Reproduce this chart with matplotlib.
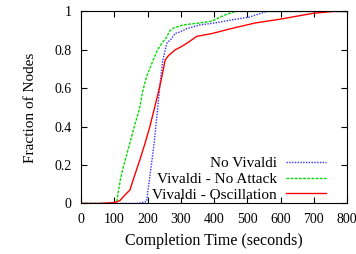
import matplotlib
matplotlib.use("Agg")
import matplotlib.pyplot as plt

plt.rcParams['font.family'] = ['Liberation Serif', 'DejaVu Serif']
plt.rcParams['font.size'] = 10

# completion time (s) vs fraction of nodes
t_novivaldi = [0, 172, 197, 207, 220, 230, 240, 246, 258, 273, 283, 293, 318, 358, 403, 450, 505, 540, 560, 800]
f_novivaldi = [0, 0, 0.01, 0.14, 0.315, 0.487, 0.66, 0.747, 0.834, 0.86, 0.886, 0.89, 0.91, 0.93, 0.94, 0.955, 0.97, 0.99, 1.0, 1.0]

t_noattack = [0, 107, 112, 118, 125, 135, 147, 160, 175, 185, 197, 217, 230, 243, 255, 268, 280, 307, 333, 358, 394, 430, 464, 800]
f_noattack = [0, 0, 0.06, 0.12, 0.175, 0.24, 0.315, 0.40, 0.487, 0.58, 0.66, 0.747, 0.80, 0.834, 0.86, 0.90, 0.915, 0.93, 0.935, 0.94, 0.95, 0.98, 1.0, 1.0]

t_oscill = [0, 57, 102, 117, 130, 147, 162, 177, 192, 207, 220, 232, 243, 253, 263, 283, 300, 318, 348, 394, 450, 524, 600, 697, 758, 800]
f_oscill = [0, 0, 0.005, 0.015, 0.04, 0.07, 0.15, 0.227, 0.31, 0.40, 0.49, 0.574, 0.66, 0.747, 0.77, 0.80, 0.815, 0.834, 0.87, 0.885, 0.91, 0.94, 0.96, 0.99, 1.0, 1.0]

fig = plt.figure(figsize=(3.56, 2.54), dpi=100)
ax = fig.add_axes([0.2275, 0.199, 0.7475, 0.756])

ax.plot(t_novivaldi, f_novivaldi, color='#3030ff', linestyle=(0, (1, 1)), linewidth=1.0, label='No Vivaldi')
ax.plot(t_noattack, f_noattack, color='#00dd00', linestyle=(0, (2, 1)), linewidth=1.0, label='Vivaldi - No Attack')
ax.plot(t_oscill, f_oscill, color='#ff0000', linestyle='-', linewidth=1.0, label='Vivaldi - Oscillation')

ax.set_xlim(0, 800)
ax.set_ylim(0, 1)
ax.set_xticks(range(0, 801, 100))
ax.set_yticks([0, 0.2, 0.4, 0.6, 0.8, 1])
ax.set_yticklabels(['0', '0.2', '0.4', '0.6', '0.8', '1'])
ax.tick_params(direction='in', top=True, right=True, length=4, width=0.8, pad=7)
ax.set_xlabel('Completion Time (seconds)', fontsize=11.5, labelpad=5)
ax.set_ylabel('Fraction of Nodes', fontsize=11, labelpad=12)

ax.legend(loc='lower right', bbox_to_anchor=(0.921, 0.01), frameon=False, markerfirst=False,
          fontsize=11, handlelength=2.6, labelspacing=0.12, handletextpad=0.6,
          borderpad=0, borderaxespad=0)

fig.savefig('out.png', dpi=100)
